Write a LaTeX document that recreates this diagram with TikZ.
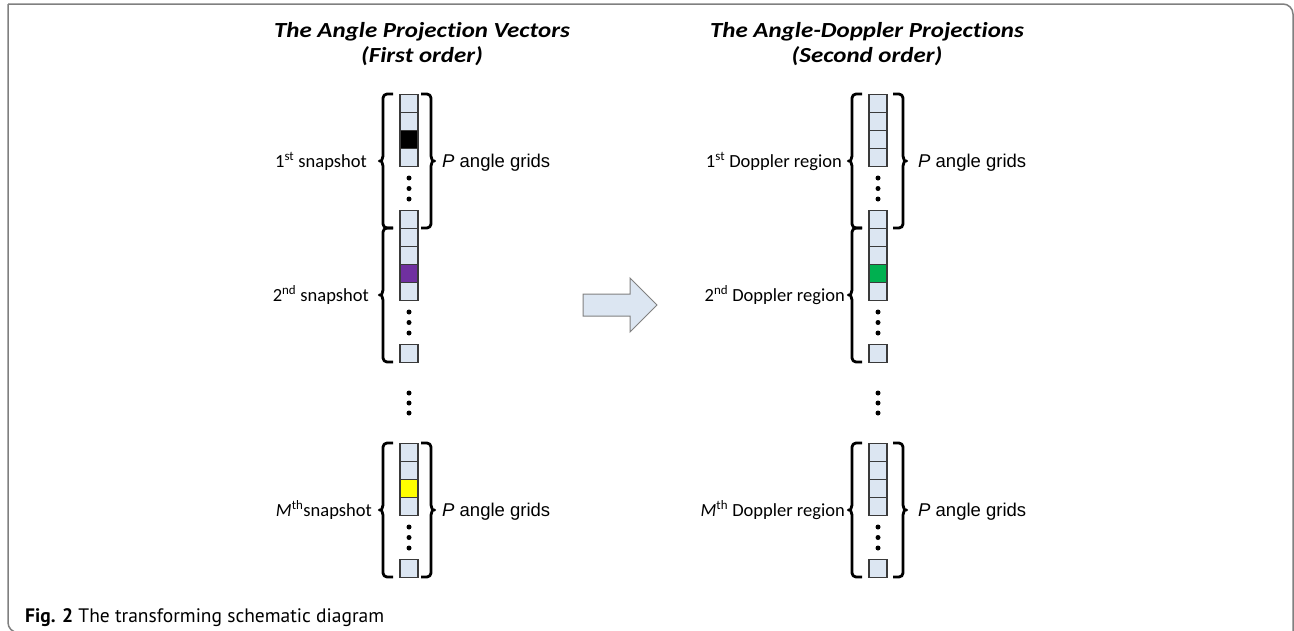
\documentclass[tikz,border=0pt]{standalone}
\usepackage{fontspec}
\setmainfont{Carlito}[Ligatures=NoCommon]
\newfontfamily\headfont{Carlito}[Ligatures=NoCommon, FakeStretch=1.16]
\newfontfamily\gridfont{Liberation Sans}
\newfontfamily\captionfont{PT Sans}
\usetikzlibrary{positioning,calc}
\definecolor{gridfill}{HTML}{DCE6F2}
\definecolor{gridline}{HTML}{3A3A3A}
\definecolor{framegray}{HTML}{808080}
\definecolor{cellpurple}{HTML}{7030A0}
\definecolor{cellgreen}{HTML}{00B050}
\definecolor{cellyellow}{HTML}{FFFF00}
\newcommand{\cellstack}[5]{% #1 name, #2 centre x, #3 top y, #4 coloured cell (0 = none), #5 colour
  \foreach \k in {1,...,4}{
    \ifnum\k=#4\relax\def\cellfill{#5}\else\def\cellfill{gridfill}\fi
    \node[gridcell, fill=\cellfill] (#1-\k) at (#2,{#3+18*(\k-1)}) {};
  }
  \foreach \k/\dy in {1/84,2/94.5,3/105}
    \node[vdot] (#1-d\k) at (#2,{#3+\dy}) {};
  \node[gridcell] (#1-5) at (#2,{#3+116}) {};
}
\newcommand{\curlyleft}[3]{% #1 x, #2 top, #3 bottom
  \draw[bracket] (#1+10,#2) -- (#1,#2) -- (#1,{(#2+#3)/2-9})
    .. controls (#1,{(#2+#3)/2-2}) and (#1-2,{(#2+#3)/2}) .. (#1-6,{(#2+#3)/2})
    .. controls (#1-2,{(#2+#3)/2}) and (#1,{(#2+#3)/2+2}) .. (#1,{(#2+#3)/2+9})
    -- (#1,#3) -- (#1+10,#3);}
\newcommand{\curlyright}[3]{% #1 x, #2 top, #3 bottom
  \draw[bracket] (#1-10,#2) -- (#1,#2) -- (#1,{(#2+#3)/2-9})
    .. controls (#1,{(#2+#3)/2-2}) and (#1+2,{(#2+#3)/2}) .. (#1+6,{(#2+#3)/2})
    .. controls (#1+2,{(#2+#3)/2}) and (#1,{(#2+#3)/2+2}) .. (#1,{(#2+#3)/2+9})
    -- (#1,#3) -- (#1-10,#3);}

\begin{document}
\begin{tikzpicture}[x=1pt, y=-1pt,
    gridcell/.style={draw=gridline, fill=gridfill, line width=1.3pt, minimum width=18pt,
      minimum height=18pt, inner sep=0pt, anchor=north},
    vdot/.style={circle, fill=black, inner sep=0pt, minimum size=5pt},
    bracket/.style={line width=2.8pt, rounded corners=4pt, line join=round},
    heading/.style={font={\fontsize{21.5}{25}\selectfont\headfont\bfseries\itshape}, align=center, inner sep=0pt, anchor=north},
    sidelabel/.style={font={\fontsize{18.5}{22}\selectfont}, inner sep=0pt},
    gridlabel/.style={font={\fontsize{18.5}{22}\selectfont\gridfont}, inner sep=0pt, anchor=base west},
    framebox/.style={draw=framegray, line width=1.5pt, rounded corners=10pt}]
  \useasboundingbox (0,0) rectangle (1294,630);
  % figure frame
  \draw[framebox] (8,4) -- (1293,4) -- (1293,640);
  \draw[framebox] (8,4) -- (8,632.5) -- (40,632.5);

  % headings
  \node[heading] (headL) at (422,22) {The Angle Projection Vectors\\(First order)};
  \node[heading] (headR) at (867,22) {The Angle-Doppler Projections\\(Second order)};

  % first order column
  \cellstack{fa}{409}{94}{3}{black}
  \cellstack{fb}{409}{228}{3}{cellpurple}
  \cellstack{fc}{409}{443}{3}{cellyellow}
  \node[vdot] (fm1) at (409,393) {};
  \node[vdot] (fm2) at (409,403) {};
  \node[vdot] (fm3) at (409,413) {};
  \curlyleft{383}{94}{228}
  \curlyleft{383}{228}{362}
  \curlyleft{383}{443}{577}
  \curlyright{431}{94}{228}
  \curlyright{431}{443}{577}
  \node[sidelabel, anchor=base east] (fa-lab) at (367,167) {1\textsuperscript{st} snapshot};
  \node[sidelabel, anchor=base east] (fb-lab) at (369,301) {2\textsuperscript{nd} snapshot};
  \node[sidelabel, anchor=base east] (fc-lab) at (372,516) {\textit{M}\textsuperscript{th}snapshot};
  \node[gridlabel] (fa-p) at (442,167) {\textit{P} angle grids};
  \node[gridlabel] (fc-p) at (442,516) {\textit{P} angle grids};

  % transform arrow
  \draw[draw=framegray, fill=gridfill, line width=1pt] (583,294) -- (630,294) -- (630,278)
    -- (657,305) -- (630,332) -- (630,316) -- (583,316) -- cycle;

  % second order column
  \cellstack{sa}{878}{94}{0}{gridfill}
  \cellstack{sb}{878}{228}{3}{cellgreen}
  \cellstack{sc}{878}{443}{0}{gridfill}
  \node[vdot] (sm1) at (878,393) {};
  \node[vdot] (sm2) at (878,403) {};
  \node[vdot] (sm3) at (878,413) {};
  \curlyleft{852}{94}{228}
  \curlyleft{852}{228}{362}
  \curlyleft{852}{443}{577}
  \curlyright{903}{94}{228}
  \curlyright{903}{443}{577}
  \node[sidelabel, anchor=base east] (sa-lab) at (842,167) {1\textsuperscript{st} Doppler region};
  \node[sidelabel, anchor=base east] (sb-lab) at (845,301) {2\textsuperscript{nd} Doppler region};
  \node[sidelabel, anchor=base east] (sc-lab) at (845,516) {\textit{M}\textsuperscript{th} Doppler region};
  \node[gridlabel] (sa-p) at (918,167) {\textit{P} angle grids};
  \node[gridlabel] (sc-p) at (918,516) {\textit{P} angle grids};

  % caption
  \node[inner sep=0pt, anchor=base west, font={\fontsize{19.5}{22}\selectfont\captionfont}] (caption)
    at (25,622) {\textbf{Fig. 2} The transforming schematic diagram};
\end{tikzpicture}
\end{document}
